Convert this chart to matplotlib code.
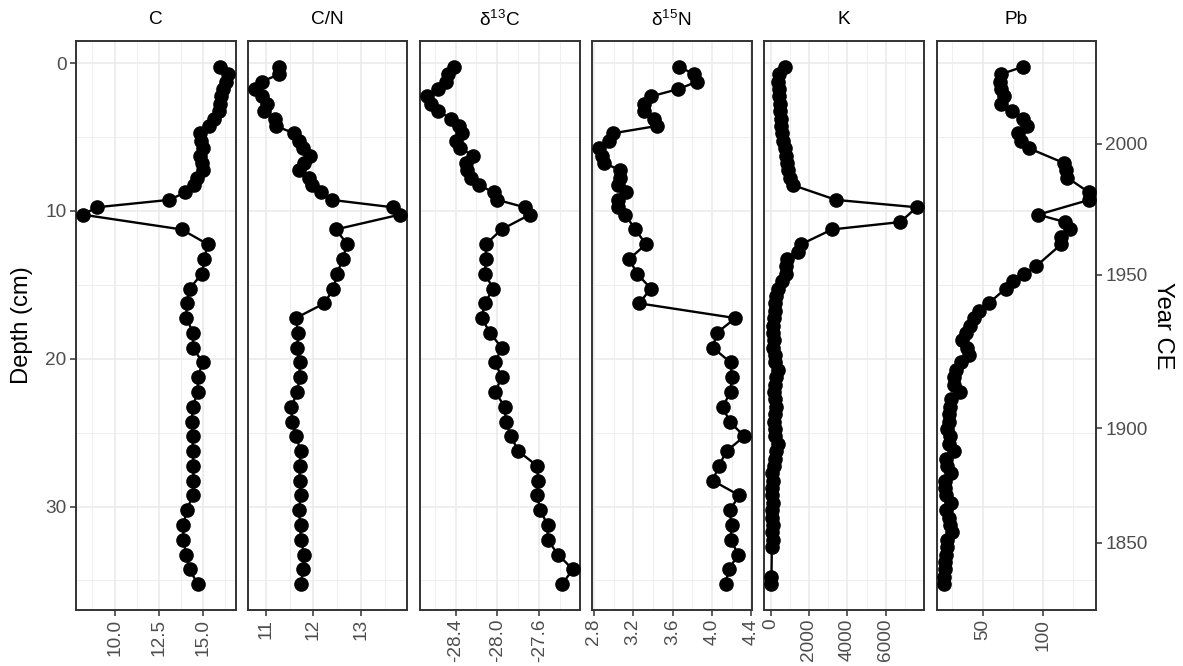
import numpy as np
import matplotlib
matplotlib.use('Agg')
import matplotlib.pyplot as plt

plt.rcParams['font.family'] = ['Liberation Sans', 'DejaVu Sans']
plt.rcParams['axes.unicode_minus'] = False
plt.rcParams['mathtext.default'] = 'regular'

# sample depths (cm) for C, C/N, d13C, d15N
depth = [0.25, 0.75, 1.25, 1.75, 2.25, 2.75, 3.25, 3.75, 4.25, 4.75, 5.25, 5.75, 6.25, 6.75,
         7.25, 7.75, 8.25, 8.75, 9.25, 9.75, 10.25, 11.25, 12.25, 13.25, 14.25, 15.25, 16.25,
         17.25, 18.25, 19.25, 20.25, 21.25, 22.25, 23.25, 24.25, 25.25, 26.25, 27.25, 28.25,
         29.25, 30.25, 31.25, 32.25, 33.25, 34.25, 35.25]

c_vals = [16.0, 16.45, 16.3, 16.15, 16.05, 15.95, 15.9, 15.65, 15.35, 14.85, 14.9, 15.0, 14.85,
          14.95, 15.0, 14.65, 14.5, 14.0, 13.1, 9.0, 8.2,
          13.8, 15.28, 15.09, 14.96, 14.25, 14.1, 14.06, 14.47, 14.43, 15.0, 14.72, 14.72, 14.43,
          14.38, 14.43, 14.43, 14.47, 14.47, 14.43, 14.1, 13.9, 13.9, 14.06, 14.25, 14.72]

cn_vals = [11.28, 11.28, 10.92, 10.78, 10.92, 11.02, 10.97, 11.19, 11.21, 11.6, 11.69, 11.78,
           11.92, 11.81, 11.7, 11.9, 11.97, 12.16, 12.38, 13.66, 13.81,
           12.47, 12.71, 12.61, 12.5, 12.42, 12.23, 11.63, 11.68, 11.66, 11.71, 11.71, 11.66,
           11.54, 11.55, 11.64, 11.73, 11.71, 11.71, 11.74, 11.69, 11.73, 11.73, 11.81, 11.78, 11.74]

d13c_vals = [-28.41, -28.47, -28.49, -28.57, -28.67, -28.63, -28.57, -28.44, -28.37, -28.34,
             -28.4, -28.36, -28.23, -28.3, -28.29, -28.25, -28.18, -28.03, -28.0, -27.74, -27.69,
             -27.96, -28.11, -28.11, -28.12, -28.04, -28.12, -28.15, -28.07, -27.96, -28.02,
             -27.96, -28.02, -27.93, -27.92, -27.87, -27.8, -27.62, -27.61, -27.62, -27.59,
             -27.52, -27.52, -27.42, -27.28, -27.38]

d15n_vals = [3.67, 3.82, 3.85, 3.66, 3.38, 3.31, 3.31, 3.41, 3.44, 2.99, 2.95, 2.85, 2.88, 2.9,
             3.07, 3.07, 3.05, 3.13, 3.05, 3.05, 3.12,
             3.22, 3.33, 3.16, 3.24, 3.38, 3.26, 4.24, 4.05, 4.01, 4.19, 4.2, 4.19, 4.11, 4.18,
             4.33, 4.15, 4.07, 4.01, 4.28, 4.18, 4.2, 4.19, 4.27, 4.17, 4.14]

# K (XRF) has its own depths
k_depth = [0.25, 0.75, 1.25, 1.75, 2.25, 2.75, 3.25, 3.75, 4.25, 4.75, 5.25, 5.75, 6.25, 6.75,
           7.25, 7.75, 8.25, 9.25, 9.75, 10.75, 11.25, 12.25, 12.75, 13.25, 13.75, 14.25, 14.75,
           15.25, 15.75, 16.25, 16.75, 17.25, 17.75, 18.25, 18.75, 19.25, 19.75, 20.25, 20.75,
           21.25, 21.75, 22.25, 22.75, 23.25, 23.75, 24.25, 24.75, 25.25, 25.75, 26.25, 26.75,
           27.25, 27.75, 28.25, 28.75, 29.25, 29.75, 30.25, 30.75, 31.25, 31.75, 32.25, 32.75,
           34.75, 35.25]
k_vals = [730, 420, 400, 420, 440, 470, 490, 520, 550, 600, 640, 730, 810, 860, 900, 990, 1160,
          3400, 7600, 6750, 3200, 1600, 1450, 870, 800, 780, 600,
          380, 290, 240, 210, 170, 120, 120, 170, 120, 210, 240, 410, 290, 210, 170, 210, 290,
          210, 170, 240, 210, 380, 290, 210, 170, 60, 120, 60, 70, 120, 60, 70, 120, 60, 120, 70,
          50, 40]

pb_depth = [0.25, 0.75, 1.25, 1.75, 2.25, 2.75, 3.25, 3.75, 4.25, 4.75, 5.25, 5.75, 6.75, 7.25,
            7.75, 8.75, 9.25, 10.25, 10.75, 11.25, 11.75, 12.25, 13.75, 14.25, 14.75, 15.25,
            16.25, 16.75, 17.25, 17.75, 18.25, 18.75, 19.25, 19.75, 20.25, 20.75, 21.25, 21.75,
            22.25, 22.75, 23.25, 23.75, 24.25, 24.75, 25.25, 25.75, 26.25, 26.75, 27.25, 27.75,
            28.25, 28.75, 29.25, 29.75, 30.25, 30.75, 31.25, 31.75, 32.25, 32.75, 33.25, 33.75,
            34.25, 34.75, 35.25]
pb_vals = [83, 65, 64, 65, 68, 65, 74, 83, 87, 79, 82, 88, 117, 119, 120, 138, 138, 96, 118, 122,
           115, 115, 94, 84, 75, 69,
           55, 47, 43, 40, 36, 33, 37, 39, 32, 28, 26, 26, 31, 24, 23, 22, 22, 21, 23, 22, 26, 20,
           21, 24, 19, 19, 20, 24, 20, 22, 23, 25, 21, 21, 20, 19, 19, 18, 18]

# age scale on the right
year_depth = [5.45, 14.3, 24.7, 32.45]
year_labels = ['2000', '1950', '1900', '1850']

titles = ['C', 'C/N', 'δ$^{13}$C', 'δ$^{15}$N', 'K', 'Pb']
xs = [c_vals, cn_vals, d13c_vals, d15n_vals, k_vals, pb_vals]
ys = [depth, depth, depth, depth, k_depth, pb_depth]
major = [[10.0, 12.5, 15.0], [11, 12, 13], [-28.4, -28.0, -27.6], [2.8, 3.2, 3.6, 4.0, 4.4],
         [0, 2000, 4000, 6000], [50, 100]]
major_lab = [['10.0', '12.5', '15.0'], ['11', '12', '13'], ['-28.4', '-28.0', '-27.6'],
             ['2.8', '3.2', '3.6', '4.0', '4.4'], ['0', '2000', '4000', '6000'], ['50', '100']]
minor = [[8.75, 11.25, 13.75, 16.25], [11.5, 12.5, 13.5], [-28.6, -28.2, -27.8, -27.4],
         [3.0, 3.4, 3.8, 4.2], [1000, 3000, 5000, 7000], [25, 75, 125]]

W, H = 1183, 666
panel_x = [(75.5, 235.6), (248, 407), (420, 580), (591.5, 751.6), (764, 924), (936.6, 1096.4)]
top, bottom = 41, 610

fig = plt.figure(figsize=(W / 100, H / 100), dpi=100)

grid_col = '#EBEBEB'
edge = '#333333'
tick_col = '#4D4D4D'
fs = 13.7
fs_title = 17.1

axes = []
for i in range(6):
    x0, x1 = panel_x[i]
    ax = fig.add_axes([x0 / W, 1 - bottom / H, (x1 - x0) / W, (bottom - top) / H])
    ax.plot(xs[i], ys[i], '-o', color='black', ms=9.5, lw=1.7, zorder=3)

    lo, hi = min(xs[i]), max(xs[i])
    pad = 0.05 * (hi - lo)
    ax.set_xlim(lo - pad, hi + pad)
    ax.set_ylim(37.0, -1.5)

    ax.set_xticks(major[i])
    ax.set_xticklabels(major_lab[i], rotation=90, fontsize=fs, color=tick_col)
    ax.set_xticks(minor[i], minor=True)
    ax.set_yticks([0, 10, 20, 30])
    ax.set_yticks([5, 15, 25, 35], minor=True)

    ax.grid(True, which='major', color=grid_col, lw=1.2, zorder=0)
    ax.grid(True, which='minor', color=grid_col, lw=0.6, zorder=0)
    ax.set_axisbelow(True)

    ax.tick_params(which='minor', length=0)
    ax.tick_params(axis='x', which='major', length=4.3, width=1.1, color=edge, pad=2)
    if i == 0:
        ax.tick_params(axis='y', which='major', length=4.3, width=1.1, color=edge,
                       labelsize=fs, labelcolor=tick_col, pad=2)
    else:
        ax.tick_params(axis='y', which='major', length=0, labelleft=False)

    for s in ax.spines.values():
        s.set_color(edge)
        s.set_linewidth(1.4)

    fig.text((x0 + x1) / 2 / W, 1 - 20 / H, titles[i], ha='center', va='center', fontsize=fs)
    axes.append(ax)

# Year CE axis on the right of the last panel
ax2 = axes[-1].twinx()
ax2.set_ylim(axes[-1].get_ylim())
ax2.set_yticks(year_depth)
ax2.set_yticklabels(year_labels, fontsize=fs, color=tick_col)
ax2.tick_params(axis='y', length=4.3, width=1.1, color=edge, pad=2)
for s in ax2.spines.values():
    s.set_visible(False)

fig.text(22 / W, 1 - 325.5 / H, 'Depth (cm)', rotation=90, ha='center', va='center', fontsize=fs_title)
fig.text(1163 / W, 1 - 325.5 / H, 'Year CE', rotation=270, ha='center', va='center', fontsize=fs_title)

fig.savefig('out.png', dpi=100)
